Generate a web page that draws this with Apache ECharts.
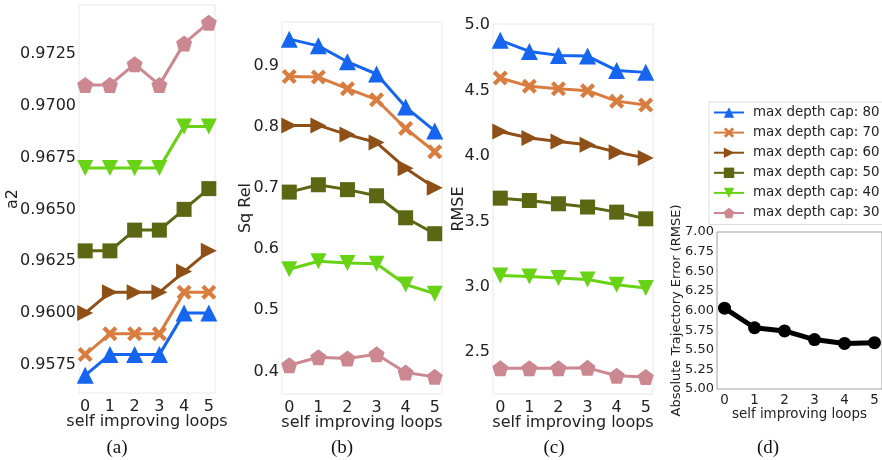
<!DOCTYPE html>
<html>
<head>
<meta charset="utf-8">
<script src="https://cdn.jsdelivr.net/npm/echarts@6/dist/echarts.min.js"></script>
<style>
html,body{margin:0;padding:0;background:#fff;}
#chart{width:882px;height:460px;}
</style>
</head>
<body>
<div id="chart"></div>
<script>
// ---- data ----
const loops = [0, 1, 2, 3, 4, 5];
const loopTicks = [0, 1, 2, 3, 4, 5];
const capNames = ['max depth cap: 80', 'max depth cap: 70', 'max depth cap: 60', 'max depth cap: 50', 'max depth cap: 40', 'max depth cap: 30'];

// (a) a2
const a2_80 = [0.9570, 0.9580, 0.9580, 0.9580, 0.9600, 0.9600];
const a2_70 = [0.9580, 0.9590, 0.9590, 0.9590, 0.9610, 0.9610];
const a2_60 = [0.9600, 0.9610, 0.9610, 0.9610, 0.9620, 0.9630];
const a2_50 = [0.9630, 0.9630, 0.9640, 0.9640, 0.9650, 0.9660];
const a2_40 = [0.9670, 0.9670, 0.9670, 0.9670, 0.9690, 0.9690];
const a2_30 = [0.9710, 0.9710, 0.9720, 0.9710, 0.9730, 0.9740];
const a2Ticks = [0.9575, 0.9600, 0.9625, 0.9650, 0.9675, 0.9700, 0.9725];

// (b) Sq Rel
const sq_80 = [0.943, 0.932, 0.906, 0.886, 0.832, 0.793];
const sq_70 = [0.882, 0.881, 0.862, 0.844, 0.797, 0.759];
const sq_60 = [0.802, 0.802, 0.787, 0.774, 0.732, 0.700];
const sq_50 = [0.693, 0.705, 0.697, 0.687, 0.651, 0.625];
const sq_40 = [0.567, 0.580, 0.577, 0.576, 0.542, 0.527];
const sq_30 = [0.410, 0.423, 0.421, 0.428, 0.398, 0.391];
const sqTicks = [0.4, 0.5, 0.6, 0.7, 0.8, 0.9];

// (c) RMSE
const rmse_80 = [4.885, 4.80, 4.77, 4.765, 4.655, 4.64];
const rmse_70 = [4.597, 4.533, 4.515, 4.50, 4.42, 4.39];
const rmse_60 = [4.188, 4.138, 4.112, 4.086, 4.03, 3.985];
const rmse_50 = [3.678, 3.66, 3.635, 3.61, 3.571, 3.52];
const rmse_40 = [3.086, 3.078, 3.068, 3.055, 3.015, 2.99];
const rmse_30 = [2.377, 2.377, 2.377, 2.38, 2.32, 2.31];
const rmseTicks = [2.5, 3.0, 3.5, 4.0, 4.5, 5.0];

// (d) ATE
const ate = [6.03, 5.78, 5.74, 5.63, 5.58, 5.59];
const ateTicks = [5.00, 5.25, 5.50, 5.75, 6.00, 6.25, 6.50, 6.75, 7.00];

// captions
const captions = ['(a)', '(b)', '(c)', '(d)'];

// ---- styles ----
const colors = ['#1565f0', '#d97c40', '#8e5016', '#5b6712', '#67d314', '#cc8891'];
const symbols = [
  'triangle',
  'path://M2,0 L5,3 L8,0 L10,2 L7,5 L10,8 L8,10 L5,7 L2,10 L0,8 L3,5 L0,2 Z',
  'path://M0,0 L10,5 L0,10 Z',
  'rect',
  'path://M0,0 L10,0 L5,10 Z',
  'path://M5,0 L10,3.8 L8.1,10 L1.9,10 L0,3.8 Z'
];
const symSizes = [17, 15, 16, 15, 16, 16];
const panelA = [a2_80, a2_70, a2_60, a2_50, a2_40, a2_30];
const panelB = [sq_80, sq_70, sq_60, sq_50, sq_40, sq_30];
const panelC = [rmse_80, rmse_70, rmse_60, rmse_50, rmse_40, rmse_30];

const txt = '#222';
const bigFont = 'DejaVu Sans';

function pairs(vals) { return loops.map((x, i) => [x, vals[i]]); }

function xAx(gi, fs, margin, gap) {
  return {
    type: 'value', gridIndex: gi, min: -0.25, max: 5.25,
    name: 'self improving loops', nameLocation: 'middle', nameGap: gap, nameMoveOverlap: false,
    nameTextStyle: { fontFamily: bigFont, fontSize: fs, color: txt },
    axisLine: { show: false }, axisTick: { show: false }, splitLine: { show: false },
    axisLabel: { customValues: loopTicks, fontFamily: bigFont, fontSize: fs, color: txt, margin: margin,
      formatter: v => String(Math.round(v)) }
  };
}
function yAx(gi, mn, mx, ticks, dec, name, fs, gap) {
  return {
    type: 'value', gridIndex: gi, min: mn, max: mx,
    name: name, nameLocation: 'middle', nameGap: gap, nameMoveOverlap: false,
    nameTextStyle: { fontFamily: bigFont, fontSize: fs, color: txt },
    axisLine: { show: false }, axisTick: { show: false }, splitLine: { show: false },
    axisLabel: { customValues: ticks, fontFamily: bigFont, fontSize: fs, color: txt, margin: 3,
      formatter: v => v.toFixed(dec) }
  };
}

const series = [];
[panelA, panelB, panelC].forEach((panel, gi) => {
  panel.forEach((vals, k) => {
    series.push({
      type: 'line', name: capNames[k], xAxisIndex: gi, yAxisIndex: gi,
      data: pairs(vals), symbol: symbols[k], symbolSize: symSizes[k], symbolKeepAspect: true,
      lineStyle: { width: 3, color: colors[k] }, itemStyle: { color: colors[k] },
      animation: false, z: 3
    });
  });
});
series.push({
  type: 'line', name: 'ATE', xAxisIndex: 3, yAxisIndex: 3,
  data: pairs(ate), symbol: 'circle', symbolSize: 13,
  lineStyle: { width: 5, color: '#000' }, itemStyle: { color: '#000' }, animation: false
});

const capX = [117, 342, 554, 768];

const option = {
  backgroundColor: '#fff',
  animation: false,
  grid: [
    { left: 79, top: 5, width: 136, height: 388, show: true, borderColor: '#e8e8e8', borderWidth: 1, backgroundColor: '#fff' },
    { left: 282, top: 22, width: 160, height: 372, show: true, borderColor: '#e8e8e8', borderWidth: 1, backgroundColor: '#fff' },
    { left: 493, top: 24, width: 160, height: 370, show: true, borderColor: '#e8e8e8', borderWidth: 1, backgroundColor: '#fff' },
    { left: 717, top: 232, width: 166, height: 157, show: true, borderColor: '#a0a0a0', borderWidth: 1, backgroundColor: '#fff' }
  ],
  xAxis: [
    xAx(0, 16, 6, 21),
    xAx(1, 16, 6, 21),
    xAx(2, 16, 6, 21),
    xAx(3, 13.4, 5, 19)
  ],
  yAxis: [
    yAx(0, 0.95615, 0.97485, a2Ticks, 4, 'a2', 16, 58),
    yAx(1, 0.363, 0.971, sqTicks, 1, 'Sq Rel', 16, 28),
    yAx(2, 2.18, 5.01, rmseTicks, 1, 'RMSE', 16, 26),
    yAx(3, 5, 7, ateTicks, 2, 'Absolute Trajectory Error (RMSE)', 13, 34)
  ],
  legend: {
    data: capNames, orient: 'vertical', left: 709, top: 102,
    itemWidth: 30, itemHeight: 13, itemGap: 7.1,
    padding: [4, 20, 5, 4],
    backgroundColor: '#fff', borderColor: '#dddddd', borderWidth: 1,
    textStyle: { fontFamily: bigFont, fontSize: 13.4, color: txt, padding: [0, 0, 0, 4] }
  },
  graphic: captions.map((c, i) => ({
    type: 'text', x: capX[i], y: 448,
    style: { text: c, font: '19px "Liberation Serif"', fill: '#111', textAlign: 'center', textVerticalAlign: 'middle' }
  })),
  series: series
};

const chart = echarts.init(document.getElementById('chart'), null, { renderer: 'canvas' });
chart.setOption(option);
</script>
</body>
</html>
